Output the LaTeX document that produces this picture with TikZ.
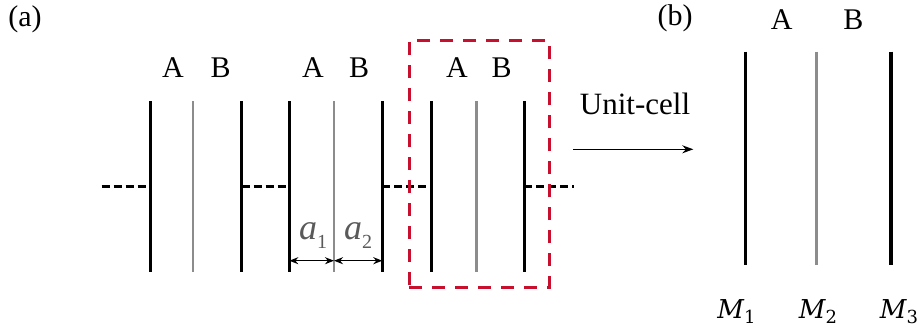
\documentclass[tikz,border=0pt]{standalone}
\usepackage{fontspec}
\setmainfont{LiberationSerif}[Extension=.ttf,UprightFont=*-Regular,ItalicFont=*-Italic,BoldFont=*-Bold]
\newfontfamily\tnr{LiberationSerif}[Extension=.ttf,UprightFont=*-Regular,ItalicFont=*-Italic,BoldFont=*-Bold]
\newfontfamily\mathlike{DejaVu Serif}
\usetikzlibrary{arrows.meta}
\definecolor{plategray}{HTML}{8C8C8C}
\definecolor{labgray}{HTML}{5A5A5A}
\definecolor{boxred}{HTML}{C8102E}
\tikzset{
  blackplate/.style={line width=3.2pt,black},
  grayplate/.style={line width=2.6pt,plategray},
  link/.style={line width=2.5pt,black,dash pattern=on 8pt off 4pt},
  lab/.style={font=\tnr\fontsize{30}{30}\selectfont,inner sep=0pt},
  mlab/.style={font=\mathlike\fontsize{26}{26}\selectfont,inner sep=0pt},
  alab/.style={inner sep=0pt,text=labgray},
  dim/.style={line width=1.4pt,{Stealth[length=9pt,width=7pt]}-{Stealth[length=9pt,width=7pt]}},
  cellbox/.style={line width=3pt,boxred,dash pattern=on 13pt off 10pt},
}
\newcommand{\alabel}[1]{{\tnr\fontsize{36}{36}\selectfont\itshape a}{\tnr\fontsize{20}{20}\selectfont\raisebox{-9pt}{#1}}}
\newcommand{\mlabel}[1]{{\itshape M}{\fontsize{18}{18}\selectfont\raisebox{-5pt}{#1}}}
\begin{document}
\begin{tikzpicture}[x=1pt,y=-1pt]
\useasboundingbox (0,0) rectangle (917,330);
% ---- panel (a)
\node[lab] (la) at (25,19) {(a)};
% plate coordinates
\foreach \n/\x in {p1/150.7,p2/193,p3/241.7,p4/289.3,p5/334,p6/382.3,p7/431.7,p8/476.7,p9/524.3}{
  \coordinate (\n t) at (\x,101);
  \coordinate (\n b) at (\x,272);
  \coordinate (\n m) at (\x,186.7);
}
\draw[blackplate] (p1t) -- (p1b);
\draw[grayplate] (p2t) -- (p2b);
\draw[blackplate] (p3t) -- (p3b);
\draw[blackplate] (p4t) -- (p4b);
\draw[grayplate] (p5t) -- (p5b);
\draw[blackplate] (p6t) -- (p6b);
\draw[blackplate] (p7t) -- (p7b);
\draw[grayplate] (p8t) -- (p8b);
\draw[blackplate] (p9t) -- (p9b);
% dashed links
\coordinate (lend) at (101.7,186.7);
\coordinate (rend) at (573.5,186.7);
\draw[link] (lend) -- (p1m);
\draw[link] (p3m) -- (p4m);
\draw[link] (p6m) -- (p7m);
\draw[link] (p9m) -- (rend);
% A B labels
\node[lab] (A1) at (173,68) {A};
\node[lab] (B1) at (220.7,68) {B};
\node[lab] (A2) at (313,68) {A};
\node[lab] (B2) at (359,68) {B};
\node[lab] (A3) at (457,68) {A};
\node[lab] (B3) at (501.7,68) {B};
% dimension arrows
\coordinate (d1) at (289.3,260.7);
\coordinate (d2) at (334,260.7);
\coordinate (d3) at (382.3,260.7);
\draw[dim] (d1) -- (d2);
\draw[dim] (d2) -- (d3);
\node[alab] (a1) at (313,236) {\alabel{1}};
\node[alab] (a2) at (358,236) {\alabel{2}};
% red unit cell box
\node[cellbox,draw,minimum width=139.7pt,minimum height=247.3pt,inner sep=0pt] (cell) at (479.15,163.65) {};
% arrow
\coordinate (ua) at (573,149.3);
\coordinate (ub) at (693.3,149.3);
\draw[line width=1.4pt,-{Stealth[length=11pt,width=8pt]}] (ua) -- (ub);
\node[lab,font=\tnr\fontsize{31}{31}\selectfont] (uc) at (635,104) {Unit-cell};
% ---- panel (b)
\node[lab] (lb) at (675,18) {(b)};
\node[lab] (Ab) at (781.7,20) {A};
\node[lab] (Bb) at (853.3,20) {B};
\coordinate (m1t) at (745.3,51.7);
\coordinate (m1b) at (745.3,265);
\coordinate (m2t) at (816.7,51.7);
\coordinate (m2b) at (816.7,265);
\coordinate (m3t) at (891,51.7);
\coordinate (m3b) at (891,265);
\draw[blackplate] (m1t) -- (m1b);
\draw[grayplate] (m2t) -- (m2b);
\draw[blackplate] (m3t) -- (m3b);
\node[mlab] (M1) at (736.5,312) {\mlabel{1}};
\node[mlab] (M2) at (818,312) {\mlabel{2}};
\node[mlab] (M3) at (899,312) {\mlabel{3}};
\end{tikzpicture}
\end{document}
